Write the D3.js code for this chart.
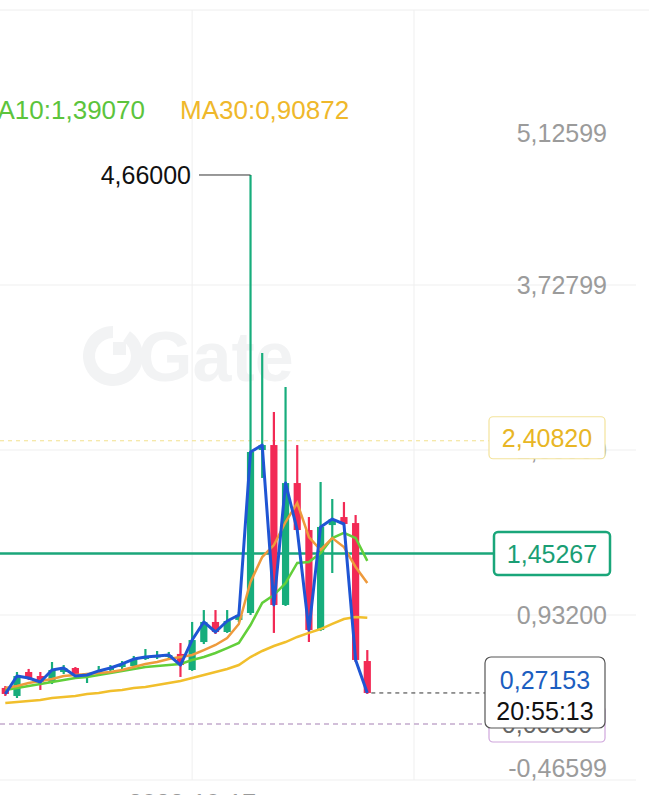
<!DOCTYPE html>
<html lang="en">
<head>
<meta charset="utf-8">
<title>kline</title>
<script src="https://cdn.jsdelivr.net/npm/d3@7"></script>
<style>
  body { margin: 0; background: #fff; overflow: hidden; }
  svg { display: block; font-family: "Liberation Sans", Arial, sans-serif; }
</style>
</head>
<body>
<script>
var w = 649, h = 795;

// candles (price units)
var open  = [0.314,0.246,0.449,0.415,0.364,0.449,0.483,0.407,0.441,0.466,0.491,0.500,0.559,0.576,0.576,0.602,
             0.466,0.703,0.873,0.788,0.890,0.949,2.330,2.372,1.017,2.050,1.652,0.805,1.694,1.762,1.711,0.542];
var high  = [0.330,0.449,0.475,0.449,0.534,0.508,0.491,0.441,0.500,0.508,0.542,0.585,0.644,0.627,0.619,0.695,
             0.873,0.974,0.974,0.974,0.957,4.660,3.152,2.652,2.864,2.372,1.762,2.059,1.915,1.889,1.779,0.635];
var low   = [0.246,0.229,0.381,0.297,0.347,0.432,0.398,0.356,0.432,0.449,0.475,0.491,0.551,0.559,0.551,0.407,
             0.458,0.686,0.771,0.780,0.873,0.932,2.093,0.780,1.008,1.644,0.703,0.796,1.288,1.686,0.534,0.263];
var close = [0.263,0.415,0.398,0.364,0.466,0.483,0.415,0.424,0.458,0.483,0.517,0.559,0.576,0.585,0.593,0.508,
             0.720,0.873,0.788,0.881,0.932,2.313,2.372,1.017,2.050,1.652,0.805,1.678,1.745,1.703,0.551,0.27153];

var ma5  = [0.314,0.330,0.356,0.373,0.390,0.415,0.424,0.432,0.441,0.449,0.466,0.491,0.517,0.534,0.559,0.576,
            0.593,0.635,0.678,0.737,0.856,1.212,1.423,1.525,1.720,1.881,1.593,1.483,1.584,1.508,1.339,1.203];
var ma10 = [0.297,0.314,0.330,0.347,0.364,0.381,0.398,0.407,0.424,0.441,0.458,0.475,0.491,0.500,0.508,0.517,
            0.551,0.576,0.610,0.652,0.695,0.847,1.034,1.101,1.203,1.373,1.381,1.457,1.584,1.627,1.584,1.3907];
var ma30 = [0.186,0.195,0.203,0.212,0.229,0.237,0.246,0.263,0.271,0.288,0.297,0.314,0.322,0.339,0.356,0.373,
            0.398,0.424,0.449,0.475,0.508,0.576,0.627,0.669,0.703,0.746,0.780,0.813,0.856,0.898,0.915,0.90872];

var yTicks = [5.12599, 3.72799, 2.33000, 0.93200, -0.46599];
var yTickLabels = ["5,12599", "3,72799", "2,33000", "0,93200", "-0,46599"];
var xTickIdx = [16, 35];
var xTickLabels = ["2023-10-17", ""];

var legendNames = ["MA10:1,39070", "MA30:0,90872"];
var highMark = 4.66, highLabel = "4,66000";
var yellowLevel = 2.40820, yellowLabel = "2,40820";
var greenLevel = 1.45267, greenLabel = "1,45267";
var lowLevel = 0.0086, lowLabel = "0,00860";
var lastPrice = 0.27153, lastLabel = "0,27153", countdown = "20:55:13";

var green = "#17ad7c", red = "#f22a55";

var svg = d3.select("body").append("svg")
  .attr("width", w)
  .attr("height", h);

var x = d3.scaleLinear().domain([0, open.length - 1]).range([5.3, 367.3]);
var y = d3.scaleLinear().domain([-0.46599, 5.12599]).range([780, 120]);

// watermark
svg.append("path")
  .attr("d", d3.arc()({innerRadius: 18, outerRadius: 30, startAngle: 0.6, endAngle: 2 * Math.PI}))
  .attr("transform", "translate(113,356)")
  .attr("fill", "#f2f3f4");
svg.append("rect").attr("x", 113).attr("y", 342).attr("width", 13).attr("height", 13)
  .attr("fill", "#f2f3f4");
svg.append("text")
  .attr("x", 138).attr("y", 381)
  .attr("fill", "#f2f3f4")
  .style("font-size", "70px").style("font-weight", "bold")
  .text("Gate");

// grid
svg.append("line").attr("x1", 0).attr("x2", w).attr("y1", 10).attr("y2", 10)
  .attr("stroke", "#eeeeee");
svg.selectAll(".hgrid")
  .data(yTicks.slice(1))
  .enter().append("line")
  .attr("class", "hgrid")
  .attr("x1", 0).attr("x2", 636)
  .attr("y1", function(d) { return y(d); })
  .attr("y2", function(d) { return y(d); })
  .attr("stroke", "#efefef");
svg.selectAll(".vgrid")
  .data(xTickIdx)
  .enter().append("line")
  .attr("class", "vgrid")
  .attr("x1", function(d) { return x(d); })
  .attr("x2", function(d) { return x(d); })
  .attr("y1", 10).attr("y2", 780)
  .attr("stroke", "#efefef");

// x labels (mostly below the window)
svg.selectAll(".xlab")
  .data(xTickIdx)
  .enter().append("text")
  .attr("class", "xlab")
  .attr("x", function(d) { return x(d); })
  .attr("y", 812)
  .attr("text-anchor", "middle")
  .attr("fill", "#999")
  .style("font-size", "25px")
  .text(function(d, i) { return xTickLabels[i]; });

// y labels
svg.selectAll(".ylab")
  .data(yTicks)
  .enter().append("text")
  .attr("class", "ylab")
  .attr("x", 607)
  .attr("y", function(d, i) {
    var off = i == 0 ? 13 : (i == yTicks.length - 1 ? -12 : 0);
    return y(d) + off;
  })
  .attr("dy", "0.36em")
  .attr("text-anchor", "end")
  .attr("fill", "#9b9b9b")
  .style("font-size", "25px")
  .text(function(d, i) { return yTickLabels[i]; });

// legend (MA5 entry sits off the left edge)
svg.append("text").attr("x", 145).attr("y", 110).attr("dy", "0.36em")
  .attr("text-anchor", "end").attr("fill", "#5cc43c")
  .style("font-size", "26px").text(legendNames[0]);
svg.append("text").attr("x", 180).attr("y", 110).attr("dy", "0.36em")
  .attr("fill", "#efb82b")
  .style("font-size", "26px").text(legendNames[1]);

// price level lines
svg.append("line").attr("x1", 0).attr("x2", 489)
  .attr("y1", y(yellowLevel)).attr("y2", y(yellowLevel))
  .attr("stroke", "#f2e08c").attr("stroke-dasharray", "4,4");
svg.append("line").attr("x1", 0).attr("x2", 489)
  .attr("y1", y(lowLevel)).attr("y2", y(lowLevel))
  .attr("stroke", "#c3abcd").attr("stroke-width", 1.5).attr("stroke-dasharray", "5,4");
svg.append("line").attr("x1", 0).attr("x2", 494)
  .attr("y1", y(greenLevel)).attr("y2", y(greenLevel))
  .attr("stroke", "#1aa67a").attr("stroke-width", 2.5);

// candles
var idx = d3.range(open.length);
svg.selectAll(".wick")
  .data(idx)
  .enter().append("line")
  .attr("class", "wick")
  .attr("x1", function(i) { return x(i); })
  .attr("x2", function(i) { return x(i); })
  .attr("y1", function(i) { return y(high[i]); })
  .attr("y2", function(i) { return y(low[i]); })
  .attr("stroke", function(i) { return close[i] >= open[i] ? green : red; })
  .attr("stroke-width", 2.2);
svg.selectAll(".body")
  .data(idx)
  .enter().append("rect")
  .attr("class", "body")
  .attr("x", function(i) { return x(i) - 3.6; })
  .attr("width", 7.2)
  .attr("y", function(i) { return y(Math.max(open[i], close[i])); })
  .attr("height", function(i) { return Math.max(1.5, Math.abs(y(open[i]) - y(close[i]))); })
  .attr("fill", function(i) { return close[i] >= open[i] ? green : red; });

// moving averages + close line
var line = d3.line()
  .x(function(d, i) { return x(i); })
  .y(function(d) { return y(d); });
svg.append("path").datum(ma30).attr("d", line)
  .attr("fill", "none").attr("stroke", "#f1bf2c").attr("stroke-width", 2.5);
svg.append("path").datum(ma10).attr("d", line)
  .attr("fill", "none").attr("stroke", "#62cf3a").attr("stroke-width", 2.5);
svg.append("path").datum(ma5).attr("d", line)
  .attr("fill", "none").attr("stroke", "#ee9a3c").attr("stroke-width", 2.5);
svg.append("path").datum(close).attr("d", line)
  .attr("fill", "none").attr("stroke", "#1f55d4").attr("stroke-width", 3)
  .attr("stroke-linejoin", "round");

// high annotation
var hi = high.indexOf(highMark);
svg.append("line").attr("x1", 199).attr("x2", x(hi))
  .attr("y1", y(highMark)).attr("y2", y(highMark))
  .attr("stroke", "#333").attr("stroke-width", 1);
svg.append("text").attr("x", 191).attr("y", y(highMark)).attr("dy", "0.36em")
  .attr("text-anchor", "end").attr("fill", "#111")
  .style("font-size", "25px").text(highLabel);

// last price dashed line
svg.append("line").attr("x1", x(close.length - 1) + 4).attr("x2", 485)
  .attr("y1", y(lastPrice)).attr("y2", y(lastPrice))
  .attr("stroke", "#333").attr("stroke-dasharray", "4,4");

// level boxes
function box(x0, x1, yc, hh, stroke, sw, label, color) {
  var g = svg.append("g");
  g.append("rect").attr("x", x0).attr("y", yc - hh / 2)
    .attr("width", x1 - x0).attr("height", hh)
    .attr("rx", 4).attr("fill", "#fff")
    .attr("stroke", stroke).attr("stroke-width", sw);
  g.append("text").attr("x", (x0 + x1) / 2).attr("y", yc).attr("dy", "0.36em")
    .attr("text-anchor", "middle").attr("fill", color)
    .style("font-size", "25px").text(label);
}
box(489, 605, y(yellowLevel) - 3, 42, "#f3e39c", 1.2, yellowLabel, "#e8b625");
box(494, 610, y(greenLevel), 43, "#1aa67a", 2.5, greenLabel, "#1a9e74");
box(489, 605, y(lowLevel), 36, "#cfa6dc", 1.2, lowLabel, "#666");

// last price box
var lb = svg.append("g");
lb.append("rect").attr("x", 485).attr("y", 657).attr("width", 120).attr("height", 71)
  .attr("rx", 6).attr("fill", "#fff").attr("stroke", "#555").attr("stroke-width", 1.2);
lb.append("text").attr("x", 545).attr("y", 680).attr("dy", "0.36em")
  .attr("text-anchor", "middle").attr("fill", "#1c5ec0")
  .style("font-size", "25px").text(lastLabel);
lb.append("text").attr("x", 545).attr("y", 711).attr("dy", "0.36em")
  .attr("text-anchor", "middle").attr("fill", "#111")
  .style("font-size", "25px").text(countdown);
</script>
</body>
</html>
